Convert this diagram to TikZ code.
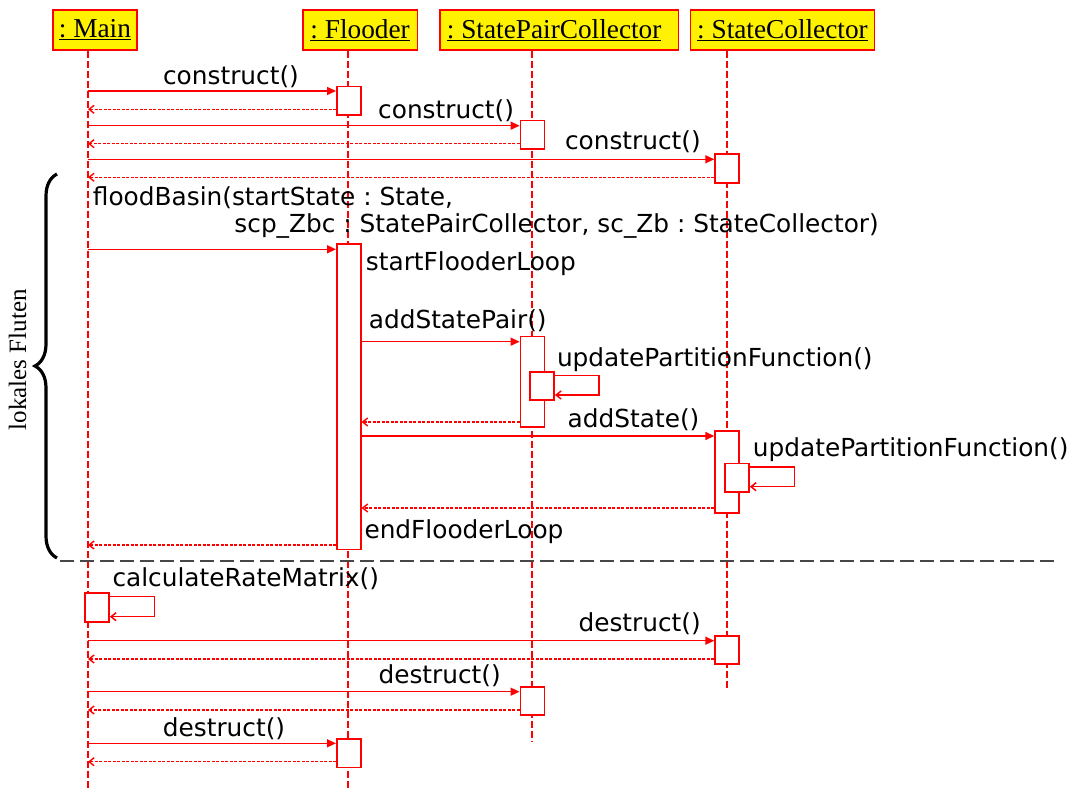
\documentclass[tikz,border=0pt]{standalone}
\usepackage{fontspec}
\setmainfont{Liberation Serif}
\newfontfamily\dv{DejaVu Sans}
\usetikzlibrary{arrows.meta,decorations.pathreplacing}
\frenchspacing
\tikzset{
  hdr/.style={draw=red, line width=1.6pt, fill=yellow, inner sep=0pt, minimum height=40.3pt, anchor=north west, font=\fontsize{27.3}{30}\selectfont},
  life/.style={red, line width=1.2pt, dash pattern=on 7pt off 3pt},
  act/.style={draw=red, fill=white, line width=1.6pt, minimum width=24pt, inner sep=0pt, anchor=north west},
  msg/.style={red, line width=1.5pt, -{Triangle[length=9pt,width=8pt]}},
  ret/.style={red, line width=1.4pt, dash pattern=on 3pt off 1.5pt, -{Straight Barb[length=5pt,width=8pt]}},
  selfmsg/.style={red, line width=1.5pt, -{Straight Barb[length=5pt,width=8pt]}},
  lbl/.style={font=\dv\fontsize{24.8}{28}\selectfont, inner sep=0pt, anchor=base west},
  sepline/.style={black!72, line width=1.6pt, dash pattern=on 14pt off 6pt},
}
\begin{document}
\begin{tikzpicture}[x=1pt,y=-1pt]
\useasboundingbox (0,0) rectangle (1075,791);
% headers
\node[hdr, minimum width=83.7pt] (main) at (52.3,9) {\underline{: Main}};
\node[hdr, minimum width=114.7pt] (flo) at (302,9) {\underline{: Flooder}};
\node[hdr, minimum width=238.7pt] (spc) at (439,9) {\underline{: StatePairCollector}\hspace*{10pt}};
\node[hdr, minimum width=184.3pt] (sc) at (689.5,9) {\underline{: StateCollector}};
% lifeline ends
\coordinate (mainEnd) at (88,790);
\coordinate (floEnd) at (348,790);
\coordinate (spcEnd) at (532,741.7);
\coordinate (scEnd) at (727,690);
\draw[life] (main.south -| mainEnd) -- (mainEnd);
\draw[life] (flo.south -| floEnd) -- (floEnd);
\draw[life] (spc.south -| spcEnd) -- (spcEnd);
\draw[life] (sc.south -| scEnd) -- (scEnd);
% activation boxes
\node[act, minimum height=28.3pt] (fa1) at (336,85.7) {};
\node[act, minimum height=28.3pt] (sa1) at (519.6,119.7) {};
\node[act, minimum height=28.7pt] (ca1) at (714.3,153.3) {};
\node[act, minimum height=305.4pt] (fb) at (336,243.3) {};
\node[act, minimum height=90.3pt] (sa2) at (519.6,335.7) {};
\node[act, minimum height=28.3pt] (sn1) at (529.3,371) {};
\node[act, minimum height=82pt] (ca2) at (714.3,430.3) {};
\node[act, minimum height=28.3pt] (cn1) at (724.3,462.7) {};
\node[act, minimum height=28.7pt] (mn) at (84.3,592.3) {};
\node[act, minimum height=28pt] (ca3) at (714.3,635.3) {};
\node[act, minimum height=28pt] (sa3) at (519.5,686) {};
\node[act, minimum height=28.4pt] (fa3) at (336,738.3) {};
% message y-levels
\coordinate (y1) at (88,91);      \coordinate (r1) at (88,109.3);
\coordinate (y2) at (88,125.7);   \coordinate (r2) at (88,143.7);
\coordinate (y3) at (88,159.3);   \coordinate (r3) at (88,177.3);
\coordinate (y4) at (88,249.3);
\coordinate (y5) at (0,341.7);    \coordinate (r5) at (0,422);
\coordinate (y6) at (0,436);      \coordinate (r6) at (0,508);
\coordinate (r4) at (88,545);
\coordinate (y9) at (88,640.7);   \coordinate (r9) at (88,659);
\coordinate (y10) at (88,691.7);  \coordinate (r10) at (88,710);
\coordinate (y11) at (88,743.3);  \coordinate (r11) at (88,761.7);
% self-call loop corners
\coordinate (l1a) at (599,375.7); \coordinate (l1b) at (599,395);
\coordinate (l2a) at (794.3,467); \coordinate (l2b) at (794.3,486.7);
\coordinate (l3a) at (154.3,596.7); \coordinate (l3b) at (154.3,616.7);
% messages
\draw[msg] (y1) -- (y1 -| fa1.west);
\draw[ret] (r1 -| fa1.west) -- (r1);
\draw[msg] (y2) -- (y2 -| sa1.west);
\draw[ret] (r2 -| sa1.west) -- (r2);
\draw[msg] (y3) -- (y3 -| ca1.west);
\draw[ret] (r3 -| ca1.west) -- (r3);
\draw[msg] (y4) -- (y4 -| fb.west);
\draw[msg] (y5 -| fb.east) -- (y5 -| sa2.west);
\draw[selfmsg] (l1a -| sn1.east) -- (l1a) -- (l1b) -- (l1b -| sn1.east);
\draw[ret] (r5 -| sa2.west) -- (r5 -| fb.east);
\draw[msg] (y6 -| fb.east) -- (y6 -| ca2.west);
\draw[selfmsg] (l2a -| cn1.east) -- (l2a) -- (l2b) -- (l2b -| cn1.east);
\draw[ret] (r6 -| ca2.west) -- (r6 -| fb.east);
\draw[ret] (r4 -| fb.west) -- (r4);
\draw[selfmsg] (l3a -| mn.east) -- (l3a) -- (l3b) -- (l3b -| mn.east);
\draw[msg] (y9) -- (y9 -| ca3.west);
\draw[ret] (r9 -| ca3.west) -- (r9);
\draw[msg] (y10) -- (y10 -| sa3.west);
\draw[ret] (r10 -| sa3.west) -- (r10);
\draw[msg] (y11) -- (y11 -| fa3.west);
\draw[ret] (r11 -| fa3.west) -- (r11);
% labels
\node[lbl] (t1) at (162.9,85) {construct()};
\node[lbl] (t2) at (378,118.3) {construct()};
\node[lbl] (t3) at (564.8,150) {construct()};
\node[lbl] (t4) at (92.7,206) {floodBasin(startState : State,};
\node[lbl, anchor=base east] (t5) at (879,233) {scp\_Zbc : StatePairCollector, sc\_Zb : StateCollector)};
\node[lbl] (t6) at (365.7,270.7) {startFlooderLoop};
\node[lbl] (t7) at (368.6,328.3) {addStatePair()};
\node[lbl] (t8) at (556.8,366.7) {updatePartitionFunction()};
\node[lbl] (t9) at (567.5,427.3) {addState()};
\node[lbl] (t10) at (752.7,456) {updatePartitionFunction()};
\node[lbl] (t11) at (364.3,538.3) {endFlooderLoop};
\node[lbl] (t12) at (112.3,586.7) {calculateRateMatrix()};
\node[lbl] (t13) at (578.3,631.7) {destruct()};
\node[lbl] (t14) at (378.3,683.3) {destruct()};
\node[lbl] (t15) at (162.7,736.7) {destruct()};
% separator
\coordinate (s1) at (60,560.7);
\coordinate (s2) at (1060,560.7);
\draw[sepline] (s1) -- (s2);
% brace
\coordinate (bb) at (57,558);
\coordinate (bt) at (57,174);
\draw[black, line width=3.2pt, decorate, decoration={brace, amplitude=22pt}] (bb) -- (bt);
\node[rotate=90, inner sep=0pt, font=\fontsize{25}{28}\selectfont] (bl) at (17.5,359.7) {lokales Fluten};
\end{tikzpicture}
\end{document}
